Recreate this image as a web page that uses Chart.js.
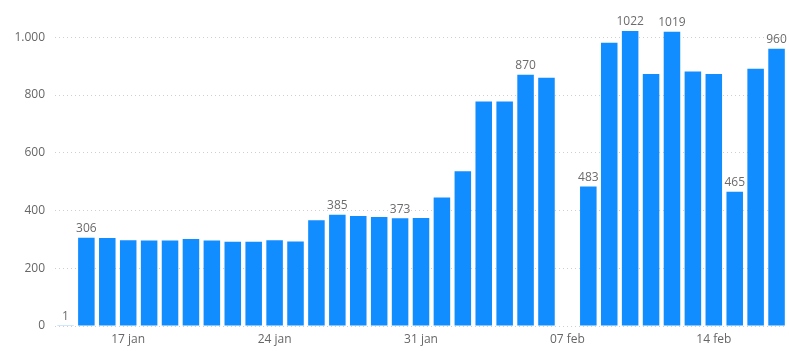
<!DOCTYPE html>
<html>
<head>
<meta charset="utf-8">
<script src="https://cdn.jsdelivr.net/npm/chart.js@4"></script>
<style>
  html, body { margin: 0; padding: 0; background: #fff; }
  #chart { display: block; }
</style>
</head>
<body>
<canvas id="chart" width="789" height="351"></canvas>
<script>
// days from 14 jan to 17 feb
const days = [
  "14 jan", "15 jan", "16 jan", "17 jan", "18 jan", "19 jan", "20 jan",
  "21 jan", "22 jan", "23 jan", "24 jan", "25 jan", "26 jan", "27 jan",
  "28 jan", "29 jan", "30 jan", "31 jan", "01 feb", "02 feb", "03 feb",
  "04 feb", "05 feb", "06 feb", "07 feb", "08 feb", "09 feb", "10 feb",
  "11 feb", "12 feb", "13 feb", "14 feb", "15 feb", "16 feb", "17 feb"
];
const counts = [
  1, 306, 305, 297, 296, 296, 301,
  296, 292, 292, 297, 293, 366, 385,
  381, 378, 373, 374, 445, 536, 778,
  778, 870, 860, null, 483, 981, 1022,
  873, 1019, 882, 873, 465, 891, 960
];
// bars that carry a value label
const labelledDays = ["14 jan", "15 jan", "27 jan", "30 jan", "05 feb", "08 feb", "10 feb", "12 feb", "15 feb", "17 feb"];
const shownDays = ["17 jan", "24 jan", "31 jan", "07 feb", "14 feb"];
const yTicks = [0, 200, 400, 600, 800, 1000];

const fmt = (v) => v.toLocaleString("da-DK");

const valueLabels = {
  id: "valueLabels",
  afterDatasetsDraw(chart) {
    const ctx = chart.ctx;
    const meta = chart.getDatasetMeta(0);
    ctx.save();
    ctx.font = "12px 'Open Sans', sans-serif";
    ctx.fillStyle = "#6b6b6b";
    ctx.textAlign = "center";
    ctx.textBaseline = "bottom";
    days.forEach((d, i) => {
      if (!labelledDays.includes(d) || counts[i] == null) return;
      const bar = meta.data[i];
      ctx.fillText(String(counts[i]), bar.x, bar.y - 3);
    });
    ctx.restore();
  }
};

new Chart(document.getElementById("chart"), {
  type: "bar",
  data: {
    labels: days,
    datasets: [{
      data: counts,
      backgroundColor: "#118DFF",
      barPercentage: 0.79,
      categoryPercentage: 1
    }]
  },
  options: {
    responsive: false,
    animation: false,
    devicePixelRatio: 1,
    layout: { padding: { top: 20, right: 2, bottom: 0, left: 0 } },
    plugins: {
      legend: { display: false },
      tooltip: { enabled: false }
    },
    scales: {
      x: {
        afterFit: (axis) => { axis.height = 25; },
        grid: { display: false, drawTicks: false },
        border: { display: false },
        ticks: {
          color: "#666",
          font: { family: "'Open Sans', sans-serif", size: 12 },
          padding: 6,
          maxRotation: 0,
          autoSkip: false,
          callback: (v, i) => (shownDays.includes(days[i]) ? days[i] : "")
        }
      },
      y: {
        min: 0,
        max: 1060,
        afterBuildTicks: (axis) => { axis.ticks = yTicks.map((v) => ({ value: v })); },
        afterFit: (axis) => { axis.width = 55; },
        grid: { color: "#cfcfcf", drawTicks: false, lineWidth: 1 },
        border: { display: false, dash: [1, 3] },
        ticks: {
          color: "#666",
          font: { family: "'Open Sans', sans-serif", size: 12 },
          padding: 10,
          callback: (v) => fmt(v)
        }
      }
    }
  },
  plugins: [valueLabels]
});
</script>
</body>
</html>
